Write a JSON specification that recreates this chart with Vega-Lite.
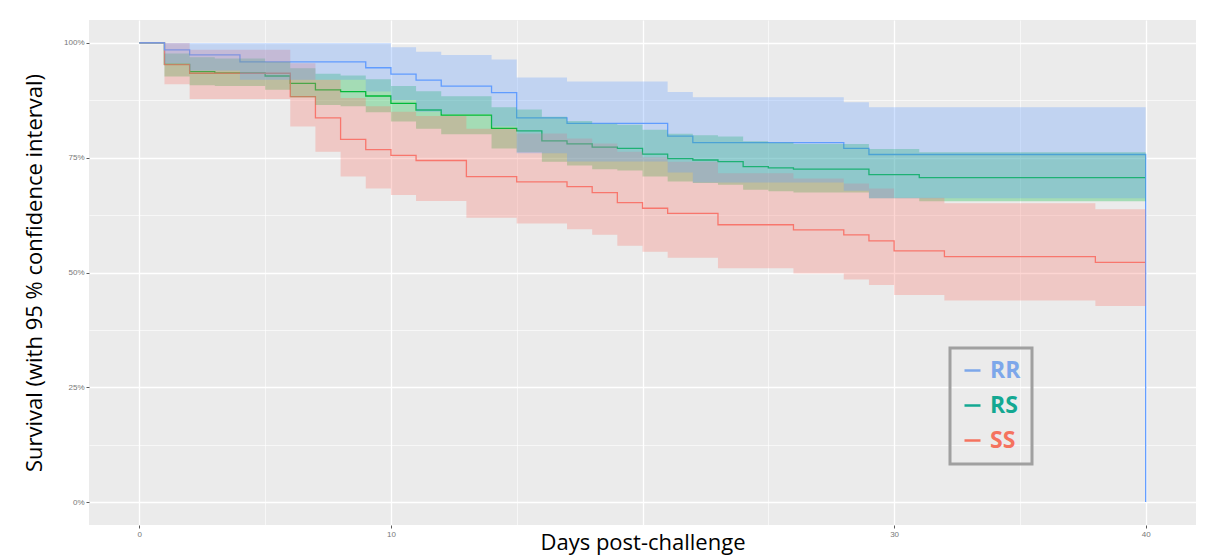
{
  "$schema": "https://vega.github.io/schema/vega-lite/v6.json",
  "width": 1107,
  "height": 505,
  "autosize": {"type": "none"},
  "padding": {"left": 89, "top": 20, "right": 16, "bottom": 34},
  "background": "#ffffff",
  "config": {
    "view": {"fill": "#EBEBEB", "stroke": null},
    "axis": {
      "domain": false,
      "gridColor": "#ffffff",
      "tickColor": "#5a5a5a",
      "tickSize": 3,
      "labelFont": "Liberation Sans",
      "labelFontSize": 8,
      "labelColor": "#777777",
      "labelPadding": 2,
      "titleFont": "Open Sans",
      "titleFontWeight": "normal",
      "titleColor": "#000000"
    }
  },
  "data": {
    "values": [
      {"g": "RS", "day": 0, "s": 100, "lo": 100, "hi": 100},
      {"g": "RS", "day": 1, "s": 95.35, "lo": 92.7, "hi": 97.7},
      {"g": "RS", "day": 2, "s": 93.75, "lo": 90.8, "hi": 96.9},
      {"g": "RS", "day": 3, "s": 93.5, "lo": 90.6, "hi": 96.6},
      {"g": "RS", "day": 5, "s": 92.8, "lo": 89.8, "hi": 95.9},
      {"g": "RS", "day": 6, "s": 91.2, "lo": 88.1, "hi": 94.5},
      {"g": "RS", "day": 7, "s": 89.8, "lo": 86.5, "hi": 93.3},
      {"g": "RS", "day": 8, "s": 89.4, "lo": 86.2, "hi": 92.9},
      {"g": "RS", "day": 9, "s": 88.45, "lo": 84.9, "hi": 92.1},
      {"g": "RS", "day": 10, "s": 86.85, "lo": 82.9, "hi": 90.6},
      {"g": "RS", "day": 11, "s": 85.4, "lo": 81.3, "hi": 89.5},
      {"g": "RS", "day": 12, "s": 84.3, "lo": 80.1, "hi": 88.4},
      {"g": "RS", "day": 14, "s": 81.4, "lo": 77.0, "hi": 86.0},
      {"g": "RS", "day": 15, "s": 80.85, "lo": 76.2, "hi": 85.5},
      {"g": "RS", "day": 16, "s": 78.65, "lo": 74.1, "hi": 83.9},
      {"g": "RS", "day": 17, "s": 78.0, "lo": 73.3, "hi": 83.0},
      {"g": "RS", "day": 18, "s": 77.3, "lo": 72.5, "hi": 82.4},
      {"g": "RS", "day": 19, "s": 77.05, "lo": 72.2, "hi": 82.2},
      {"g": "RS", "day": 20, "s": 75.8, "lo": 70.9, "hi": 81.1},
      {"g": "RS", "day": 21, "s": 74.8, "lo": 69.8, "hi": 80.2},
      {"g": "RS", "day": 22, "s": 74.5, "lo": 69.5, "hi": 79.9},
      {"g": "RS", "day": 23, "s": 74.15, "lo": 69.1, "hi": 79.6},
      {"g": "RS", "day": 24, "s": 73.05, "lo": 68.0, "hi": 78.6},
      {"g": "RS", "day": 25, "s": 72.8, "lo": 67.7, "hi": 78.3},
      {"g": "RS", "day": 26, "s": 72.5, "lo": 67.4, "hi": 78.0},
      {"g": "RS", "day": 29, "s": 71.3, "lo": 66.2, "hi": 76.9},
      {"g": "RS", "day": 31, "s": 70.65, "lo": 65.5, "hi": 76.2},
      {"g": "RS", "day": 40, "s": 70.65, "lo": 65.5, "hi": 76.2},
      {"g": "SS", "day": 0, "s": 100, "lo": 100, "hi": 100},
      {"g": "SS", "day": 1, "s": 95.3, "lo": 91.0, "hi": 100},
      {"g": "SS", "day": 2, "s": 93.4, "lo": 87.8, "hi": 98.5},
      {"g": "SS", "day": 6, "s": 88.3, "lo": 81.8, "hi": 95.6},
      {"g": "SS", "day": 7, "s": 83.7, "lo": 76.3, "hi": 92.0},
      {"g": "SS", "day": 8, "s": 79.0, "lo": 70.9, "hi": 88.0},
      {"g": "SS", "day": 9, "s": 76.75, "lo": 68.3, "hi": 86.2},
      {"g": "SS", "day": 10, "s": 75.5, "lo": 66.9, "hi": 85.0},
      {"g": "SS", "day": 11, "s": 74.4, "lo": 65.6, "hi": 84.1},
      {"g": "SS", "day": 13, "s": 70.9, "lo": 61.9, "hi": 81.3},
      {"g": "SS", "day": 15, "s": 69.75, "lo": 60.7, "hi": 80.3},
      {"g": "SS", "day": 17, "s": 68.7, "lo": 59.4, "hi": 79.2},
      {"g": "SS", "day": 18, "s": 67.4, "lo": 58.2, "hi": 78.1},
      {"g": "SS", "day": 19, "s": 65.2, "lo": 55.8, "hi": 76.3},
      {"g": "SS", "day": 20, "s": 64.0, "lo": 54.5, "hi": 75.1},
      {"g": "SS", "day": 21, "s": 62.9, "lo": 53.2, "hi": 74.1},
      {"g": "SS", "day": 23, "s": 60.4, "lo": 50.9, "hi": 71.6},
      {"g": "SS", "day": 26, "s": 59.3, "lo": 49.8, "hi": 70.5},
      {"g": "SS", "day": 28, "s": 58.2, "lo": 48.5, "hi": 69.4},
      {"g": "SS", "day": 29, "s": 56.9, "lo": 47.3, "hi": 68.3},
      {"g": "SS", "day": 30, "s": 54.7, "lo": 45.1, "hi": 66.3},
      {"g": "SS", "day": 32, "s": 53.45, "lo": 43.9, "hi": 65.1},
      {"g": "SS", "day": 38, "s": 52.2, "lo": 42.7, "hi": 63.8},
      {"g": "SS", "day": 40, "s": 52.2, "lo": 42.7, "hi": 63.8},
      {"g": "RR", "day": 0, "s": 100, "lo": 100, "hi": 100},
      {"g": "RR", "day": 1, "s": 98.5, "lo": 95.5, "hi": 100},
      {"g": "RR", "day": 2, "s": 97.4, "lo": 94.0, "hi": 100},
      {"g": "RR", "day": 4, "s": 95.9, "lo": 92.0, "hi": 100},
      {"g": "RR", "day": 9, "s": 94.6, "lo": 89.4, "hi": 100},
      {"g": "RR", "day": 10, "s": 93.2, "lo": 87.6, "hi": 99.05},
      {"g": "RR", "day": 11, "s": 91.9, "lo": 85.0, "hi": 98.1},
      {"g": "RR", "day": 12, "s": 90.6, "lo": 84.5, "hi": 97.4},
      {"g": "RR", "day": 14, "s": 89.2, "lo": 81.8, "hi": 96.4},
      {"g": "RR", "day": 15, "s": 83.7, "lo": 76.0, "hi": 92.45},
      {"g": "RR", "day": 17, "s": 82.5, "lo": 74.2, "hi": 91.6},
      {"g": "RR", "day": 21, "s": 79.7, "lo": 71.8, "hi": 89.3},
      {"g": "RR", "day": 22, "s": 78.3, "lo": 69.6, "hi": 88.2},
      {"g": "RR", "day": 28, "s": 77.05, "lo": 67.8, "hi": 87.1},
      {"g": "RR", "day": 29, "s": 75.7, "lo": 66.2, "hi": 86.0},
      {"g": "RR", "day": 40, "s": 0, "lo": 66.2, "hi": 86.0}
    ]
  },
  "encoding": {
    "x": {
      "field": "day", "type": "quantitative",
      "scale": {"domain": [-2, 42], "nice": false, "zero": false},
      "axis": {
        "title": "Days post-challenge",
        "titleFontSize": 22,
        "titlePadding": -6,
        "values": [0, 5, 10, 15, 20, 25, 30, 35, 40],
        "labelExpr": "(datum.value % 10 === 0 && datum.value !== 20) ? datum.label : ''",
        "tickOpacity": {"condition": {"test": "datum.value % 10 === 0 && datum.value !== 20", "value": 1}, "value": 0},
        "gridWidth": {"condition": {"test": "datum.value % 10 === 0", "value": 1.3}, "value": 0.6}
      }
    }
  },
  "layer": [
    {
      "transform": [{"filter": "datum.g === 'RS'"}],
      "mark": {"type": "line", "interpolate": "step-after", "strokeWidth": 1.3, "color": "#00BA38"},
      "encoding": {
        "y": {
          "field": "s", "type": "quantitative",
          "scale": {"domain": [-5, 105], "nice": false, "zero": false},
          "axis": {
            "title": "Survival (with 95 % confidence interval)",
            "titleFontSize": 22,
            "titlePadding": 17,
            "values": [0, 12.5, 25, 37.5, 50, 62.5, 75, 87.5, 100],
            "labelExpr": "datum.value % 25 === 0 ? datum.value + '%' : ''",
            "tickOpacity": {"condition": {"test": "datum.value % 25 === 0", "value": 1}, "value": 0},
            "gridWidth": {"condition": {"test": "datum.value % 25 === 0", "value": 1.3}, "value": 0.6}
          }
        }
      }
    },
    {
      "transform": [{"filter": "datum.g === 'SS'"}],
      "mark": {"type": "line", "interpolate": "step-after", "strokeWidth": 1.3, "color": "#F8766D"},
      "encoding": {"y": {"field": "s", "type": "quantitative", "title": "Survival (with 95 % confidence interval)"}}
    },
    {
      "transform": [{"filter": "datum.g === 'RR'"}],
      "mark": {"type": "line", "interpolate": "step-after", "strokeWidth": 1.3, "color": "#619CFF"},
      "encoding": {"y": {"field": "s", "type": "quantitative", "title": "Survival (with 95 % confidence interval)"}}
    },
    {
      "transform": [{"filter": "datum.g === 'RS'"}],
      "mark": {"type": "area", "interpolate": "step-after", "opacity": 0.3, "color": "#00BA38"},
      "encoding": {"y": {"field": "lo", "type": "quantitative", "title": "Survival (with 95 % confidence interval)"}, "y2": {"field": "hi"}}
    },
    {
      "transform": [{"filter": "datum.g === 'SS'"}],
      "mark": {"type": "area", "interpolate": "step-after", "opacity": 0.3, "color": "#F8766D"},
      "encoding": {"y": {"field": "lo", "type": "quantitative", "title": "Survival (with 95 % confidence interval)"}, "y2": {"field": "hi"}}
    },
    {
      "transform": [{"filter": "datum.g === 'RR'"}],
      "mark": {"type": "area", "interpolate": "step-after", "opacity": 0.3, "color": "#619CFF"},
      "encoding": {"y": {"field": "lo", "type": "quantitative", "title": "Survival (with 95 % confidence interval)"}, "y2": {"field": "hi"}}
    },
    {
      "transform": [{"filter": "false"}],
      "mark": {"type": "line", "strokeWidth": 2.5},
      "encoding": {
        "y": {"field": "s", "type": "quantitative", "title": "Survival (with 95 % confidence interval)"},
        "color": {
          "field": "g", "type": "nominal",
          "scale": {"domain": ["RR", "RS", "SS"], "range": ["#7DA7EA", "#13A892", "#F5735F"]},
          "legend": {
            "orient": "none",
            "legendX": 861,
            "legendY": 328,
            "title": null,
            "symbolType": "stroke",
            "symbolSize": 256,
            "symbolStrokeWidth": 2.5,
            "symbolOffset": 0,
            "labelOffset": 6,
            "labelFont": "Open Sans",
            "labelFontSize": 23,
            "labelFontWeight": "bold",
            "labelExpr": "datum.label + '\u00a0\u00a0\u00a0\u00a0'",
            "rowPadding": 11,
            "padding": 11,
            "strokeColor": "#a0a0a0",
            "encode": {
              "legend": {"update": {"strokeWidth": {"value": 3}}},
              "labels": {"update": {"fill": {"signal": "datum.value === 'RR' ? '#7DA7EA' : datum.value === 'RS' ? '#13A892' : '#F5735F'"}}}
            }
          }
        }
      }
    }
  ]
}
